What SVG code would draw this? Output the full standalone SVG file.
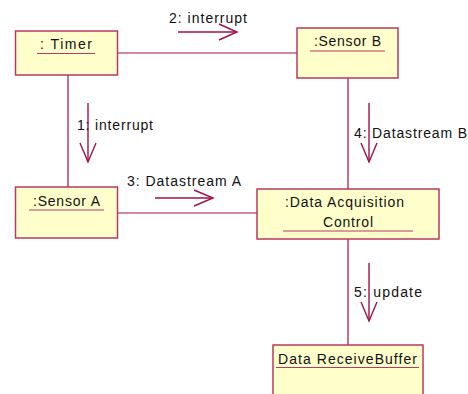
<svg xmlns="http://www.w3.org/2000/svg" width="468" height="394" viewBox="0 0 468 394">
<style>
.box{fill:#ffffcc;stroke:#b83a62;stroke-width:1.5}
.ul{stroke:#b83a62;stroke-width:1.2}
.ln{stroke:#a0104a;stroke-width:1.2;fill:none}
.ah{stroke:#a0104a;stroke-width:1.4;fill:none}
text{font-family:"Liberation Sans",Arial,sans-serif;font-size:14px;fill:#111}
</style>
<rect width="468" height="394" fill="#ffffff"/>
<g id="connectors">
<line class="ln" x1="117" y1="53" x2="297" y2="53"/>
<line class="ln" x1="68" y1="75" x2="68" y2="187"/>
<line class="ln" x1="117" y1="213" x2="257" y2="213"/>
<line class="ln" x1="348" y1="78" x2="348" y2="189"/>
<line class="ln" x1="348" y1="239" x2="348" y2="345"/>
<g id="msg2">
<line class="ah" x1="178" y1="32" x2="237" y2="32"/>
<polyline class="ah" points="219,24 237,32 219,40"/>
<text x="169" y="23" textLength="78" lengthAdjust="spacing">2: interrupt</text>
</g>
<g id="msg1">
<line class="ah" x1="88" y1="103" x2="88" y2="162"/>
<polyline class="ah" points="80,143 88,162 96,143"/>
<text x="77" y="130" textLength="76" lengthAdjust="spacing">1: interrupt</text>
</g>
<g id="msg3">
<line class="ah" x1="155" y1="198" x2="213" y2="198"/>
<polyline class="ah" points="194,190 213,198 194,206"/>
<text x="127" y="186" textLength="114" lengthAdjust="spacing">3: Datastream A</text>
</g>
<g id="msg4">
<line class="ah" x1="369" y1="103" x2="369" y2="162"/>
<polyline class="ah" points="361,143 369,162 377,143"/>
<text x="354" y="138" textLength="113" lengthAdjust="spacing">4: Datastream B</text>
</g>
<g id="msg5">
<line class="ah" x1="369" y1="263" x2="369" y2="321"/>
<polyline class="ah" points="361,302 369,321 377,302"/>
<text x="354" y="297" textLength="68" lengthAdjust="spacing">5: update</text>
</g>
</g>
<g id="timer">
<rect class="box" x="15.5" y="31" width="102" height="44"/>
<text x="40" y="49" textLength="52" lengthAdjust="spacing">: Timer</text>
<line class="ul" x1="37" y1="53.5" x2="95" y2="53.5"/>
</g>
<g id="sensorB">
<rect class="box" x="297" y="28" width="101" height="50"/>
<text x="314" y="46" textLength="67" lengthAdjust="spacing">:Sensor B</text>
<line class="ul" x1="310" y1="51" x2="385" y2="51"/>
</g>
<g id="sensorA">
<rect class="box" x="15.5" y="187" width="102" height="51"/>
<text x="33" y="206" textLength="67" lengthAdjust="spacing">:Sensor A</text>
<line class="ul" x1="29" y1="210" x2="104" y2="210"/>
</g>
<g id="dac">
<rect class="box" x="257" y="189" width="182" height="50"/>
<text x="285" y="207" textLength="119" lengthAdjust="spacing">:Data Acquisition</text>
<text x="323" y="227" textLength="50" lengthAdjust="spacing">Control</text>
<line class="ul" x1="283" y1="231" x2="413" y2="231"/>
</g>
<g id="buffer">
<rect class="box" x="273" y="345" width="150" height="60"/>
<text x="278" y="364" textLength="139" lengthAdjust="spacing">Data ReceiveBuffer</text>
<line class="ul" x1="276" y1="367.5" x2="419" y2="367.5"/>
</g>
</svg>
